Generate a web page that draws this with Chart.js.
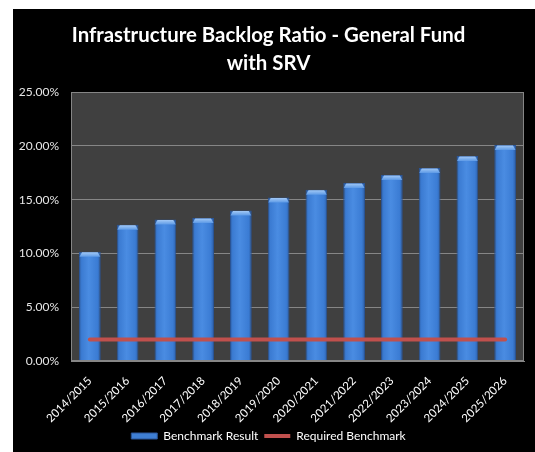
<!DOCTYPE html>
<html>
<head>
<meta charset="utf-8">
<script src="https://cdn.jsdelivr.net/npm/chart.js@4/dist/chart.umd.min.js"></script>
<style>
  html, body { margin: 0; padding: 0; background: #ffffff; }
  #frame { position: absolute; left: 13px; top: 9px; width: 522px; height: 443px; background: #000000; }
</style>
</head>
<body>
<div id="frame"><canvas id="chart"></canvas></div>
<script>
// Financial years shown on the category axis
const years = ['2014/2015', '2015/2016', '2016/2017', '2017/2018', '2018/2019', '2019/2020',
               '2020/2021', '2021/2022', '2022/2023', '2023/2024', '2024/2025', '2025/2026'];
// Infrastructure backlog ratio per year (fraction)
const benchmarkResult = [0.1015, 0.1266, 0.1315, 0.1330, 0.1399, 0.1520,
                         0.1592, 0.1656, 0.1730, 0.1795, 0.1906, 0.2008];
// Required benchmark level (fraction)
const requiredBenchmark = [0.02, 0.02, 0.02, 0.02, 0.02, 0.02,
                           0.02, 0.02, 0.02, 0.02, 0.02, 0.02];
// Value-axis ticks
const yTicks = [0, 0.05, 0.10, 0.15, 0.20, 0.25];

const BAR_PCT = 0.575;
const FONT = 'Lato, "Open Sans", sans-serif';

// Horizontal shading across each bar for a rounded, cylinder-like look
function barFill(c) {
  const chart = c.chart;
  const xs = chart.scales && chart.scales.x;
  if (!chart.chartArea || !xs || c.type !== 'data') return '#3f7fd4';
  const cx = xs.getPixelForValue(c.dataIndex);
  const half = (xs.width / years.length) * BAR_PCT / 2;
  const g = chart.ctx.createLinearGradient(cx - half, 0, cx + half, 0);
  g.addColorStop(0, '#2d5fa6');
  g.addColorStop(0.12, '#3b7bd2');
  g.addColorStop(0.45, '#4a8ce2');
  g.addColorStop(0.85, '#3b7cd4');
  g.addColorStop(1, '#2c5ea6');
  return g;
}

// Dark plot background with a grey frame
const plotFrame = {
  id: 'plotFrame',
  beforeDraw(chart) {
    const { ctx, chartArea: a } = chart;
    ctx.save();
    ctx.fillStyle = '#404040';
    ctx.fillRect(a.left, a.top, a.width, a.height);
    ctx.restore();
  },
  afterDraw(chart) {
    const { ctx, chartArea: a } = chart;
    ctx.save();
    ctx.strokeStyle = '#868686';
    ctx.lineWidth = 1;
    ctx.strokeRect(Math.round(a.left) + 0.5, Math.round(a.top) + 0.5,
                   Math.round(a.width) - 1, Math.round(a.height) - 1);
    ctx.restore();
  }
};

// Light bevelled cap on top of every bar
const barCaps = {
  id: 'barCaps',
  afterDatasetDraw(chart, args) {
    if (args.index !== 0) return;
    const { ctx } = chart;
    args.meta.data.forEach(bar => {
      const l = bar.x - bar.width / 2, r = bar.x + bar.width / 2, t = bar.y;
      const g = ctx.createLinearGradient(0, t, 0, t + 5);
      g.addColorStop(0, '#a9cdf7');
      g.addColorStop(1, '#5d9ae6');
      ctx.save();
      ctx.fillStyle = g;
      ctx.beginPath();
      ctx.moveTo(l + 0.5, t + 5);
      ctx.lineTo(l + 3, t + 0.5);
      ctx.lineTo(r - 3, t + 0.5);
      ctx.lineTo(r - 0.5, t + 5);
      ctx.closePath();
      ctx.fill();
      ctx.restore();
    });
  }
};

new Chart(document.getElementById('chart'), {
  data: {
    labels: years,
    datasets: [
      {
        type: 'bar',
        label: 'Benchmark Result',
        data: benchmarkResult,
        order: 1,
        backgroundColor: barFill,
        borderColor: '#2a5597',
        borderWidth: 1,
        barPercentage: BAR_PCT,
        categoryPercentage: 1.0
      },
      {
        type: 'line',
        label: 'Required Benchmark',
        data: requiredBenchmark,
        order: 0,
        borderColor: '#c0504d',
        backgroundColor: '#c0504d',
        borderWidth: 4,
        borderCapStyle: 'round',
        pointRadius: 0,
        pointHoverRadius: 0,
        fill: false,
        tension: 0
      }
    ]
  },
  options: {
    responsive: true,
    maintainAspectRatio: false,
    animation: false,
    layout: { padding: { left: 0, right: 11, top: 0, bottom: 0 } },
    plugins: {
      tooltip: { enabled: false },
      title: {
        display: true,
        text: ['Infrastructure Backlog Ratio - General Fund', 'with SRV'],
        color: '#ffffff',
        font: { family: FONT, size: 20.4, weight: 'bold', lineHeight: 1.4 },
        padding: { top: 12, bottom: 14 }
      },
      legend: {
        position: 'bottom',
        labels: {
          color: '#ffffff',
          font: { family: FONT, size: 12 },
          usePointStyle: true,
          pointStyleWidth: 26,
          boxHeight: 6,
          padding: 6,
          sort: (a, b) => a.datasetIndex - b.datasetIndex,
          generateLabels(chart) {
            const items = Chart.defaults.plugins.legend.labels.generateLabels(chart);
            items.forEach(it => {
              if (it.datasetIndex === 0) {
                it.pointStyle = 'rect';
                it.fillStyle = '#3f7fd4';
                it.strokeStyle = '#2a5597';
                it.lineWidth = 1;
              } else {
                it.pointStyle = 'line';
                it.strokeStyle = '#c0504d';
                it.lineWidth = 4;
              }
            });
            return items;
          }
        }
      }
    },
    scales: {
      x: {
        offset: true,
        afterFit(scale) { scale.height = 63; },
        grid: { display: false, drawTicks: false },
        border: { display: true, color: '#868686' },
        ticks: {
          color: '#ffffff',
          font: { family: FONT, size: 11.5 },
          minRotation: 45,
          maxRotation: 45,
          padding: 13
        }
      },
      y: {
        min: 0,
        max: 0.25,
        afterFit(scale) { scale.width = 58; },
        afterBuildTicks(scale) { scale.ticks = yTicks.map(v => ({ value: v })); },
        grid: { color: '#868686', lineWidth: 1, drawTicks: false },
        border: { display: true, color: '#868686' },
        ticks: {
          color: '#e6e6e6',
          font: { family: FONT, size: 12 },
          padding: 12,
          callback: v => (v * 100).toFixed(2) + '%'
        }
      }
    }
  },
  plugins: [plotFrame, barCaps]
});
</script>
</body>
</html>
